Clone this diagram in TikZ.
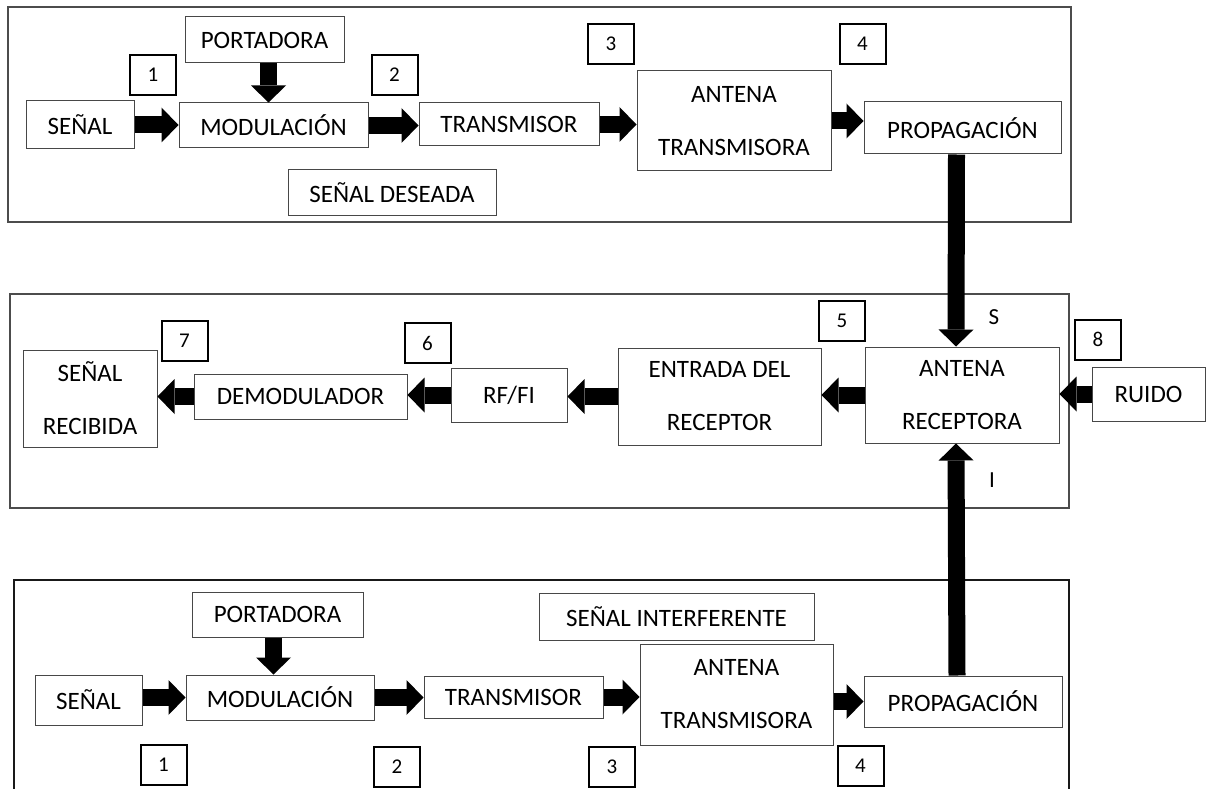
\documentclass[tikz,border=0pt]{standalone}
\usepackage{fontspec}
\setmainfont{Carlito}
\usetikzlibrary{arrows.meta}
\begin{document}
\begin{tikzpicture}[x=1pt,y=-1pt,
 box/.style={draw=black!72, line width=1pt, inner sep=0pt, font=\fontsize{25}{53}\selectfont, align=center},
 num/.style={draw=black, line width=2pt, inner sep=0pt, minimum width=46pt, minimum height=40pt, font=\fontsize{21}{25}\selectfont},
 frm/.style={draw=black!70, line width=1.3pt},
 frmb/.style={draw=black!90, line width=2.2pt},
 blk/.style={line width=17pt, -{Triangle[length=17pt 0 0, width=35pt 0 0, line width=0pt 0 0]}},
 lbl/.style={inner sep=0pt, font=\fontsize{23}{25}\selectfont}]
\clip (0,0) rectangle (1208,789);
\fill[white] (0,0) rectangle (1208,789);
% frames
\draw[frm] (8,7) rectangle (1071,222);
\draw[frm] (10,294) rectangle (1069,508);
\draw[frmb] (14,580) rectangle (1069,830);
% ---- top: desired signal
\node[box, minimum width=159pt, minimum height=46pt] (port1) at (264.5,40) {PORTADORA};
\node[num] (n1a) at (153,75) {1};
\node[box, minimum width=108pt, minimum height=48pt] (sen1) at (80,125) {SEÑAL};
\node[box, minimum width=189pt, minimum height=45pt] (mod1) at (273.5,125.5) {MODULACIÓN};
\node[num] (n2a) at (394.5,75) {2};
\node[box, minimum width=180pt, minimum height=43pt] (tx1) at (509,124.5) {TRANSMISOR};
\node[num] (n3a) at (611,44) {3};
\node[box, minimum width=194pt, minimum height=100pt] (ant1) at (734,121) {ANTENA\\TRANSMISORA};
\node[num] (n4a) at (862.5,44) {4};
\node[box, minimum width=197pt, minimum height=52pt] (prop1) at (962.5,128) {PROPAGACIÓN};
\node[box, minimum width=208pt, minimum height=45pt] (des) at (392,192.5) {SEÑAL DESEADA};
% ---- middle: receiver
\node[num] (n7) at (184.5,341) {7};
\node[box, minimum width=134pt, minimum height=97pt] (rec) at (90,398.5) {SEÑAL\\RECIBIDA};
\node[box, minimum width=213pt, minimum height=45pt] (dem) at (300.5,396.5) {DEMODULADOR};
\node[num] (n6) at (427.5,343) {6};
\node[box, minimum width=116pt, minimum height=54pt] (rffi) at (509,395) {RF/FI};
\node[num] (n5) at (842,321) {5};
\node[box, minimum width=203pt, minimum height=97pt] (ent) at (719.5,396.5) {ENTRADA DEL\\RECEPTOR};
\node[box, minimum width=194pt, minimum height=96pt] (antr) at (962,395) {ANTENA\\RECEPTORA};
\node[num] (n8) at (1098,339.5) {8};
\node[box, minimum width=113pt, minimum height=54pt] (ruido) at (1148.5,394) {RUIDO};
\node[lbl] (s) at (994,317) {S};
\node[lbl] (i) at (992,480) {I};
% ---- bottom: interfering signal
\node[box, minimum width=171pt, minimum height=45pt] (port2) at (277.5,614.5) {PORTADORA};
\node[box, minimum width=107pt, minimum height=50pt] (sen2) at (88.5,700) {SEÑAL};
\node[box, minimum width=188pt, minimum height=45pt] (mod2) at (280,697.5) {MODULACIÓN};
\node[box, minimum width=179pt, minimum height=42pt] (tx2) at (513.5,697) {TRANSMISOR};
\node[box, minimum width=275pt, minimum height=47pt] (intf) at (676.5,616.5) {SEÑAL INTERFERENTE};
\node[box, minimum width=193pt, minimum height=101pt] (ant2) at (736.5,694.5) {ANTENA\\TRANSMISORA};
\node[box, minimum width=198pt, minimum height=51pt] (prop2) at (963,701.5) {PROPAGACIÓN};
\node[num] (n1b) at (163.5,765) {1};
\node[num] (n2b) at (397,766.5) {2};
\node[num] (n3b) at (612,766.5) {3};
\node[num] (n4b) at (860.5,765.5) {4};
% ---- arrows top
\draw[blk] ([xshift=4pt]port1.south) -- ([xshift=4pt]port1.south |- mod1.north);
\draw[blk] (sen1.east) -- (sen1.east -| mod1.west);
\draw[blk] (mod1.east) -- (mod1.east -| tx1.west);
\draw[blk] (tx1.east) -- (tx1.east -| ant1.west);
\draw[blk] (ant1.east) -- (ant1.east -| prop1.west);
\draw[blk] ([xshift=-6pt]prop1.south) -- ([xshift=-6pt]antr.north);
% ---- arrows middle
\draw[blk] (antr.west) -- (antr.west -| ent.east);
\draw[blk] (ent.west) -- (ent.west -| rffi.east);
\draw[blk] (rffi.west) -- (rffi.west -| dem.east);
\draw[blk] (dem.west) -- (dem.west -| rec.east);
\draw[blk] (ruido.west) -- (ruido.west -| antr.east);
% ---- arrows bottom
\draw[blk] ([xshift=-4pt]port2.south) -- ([xshift=-4pt]port2.south |- mod2.north);
\draw[blk] (mod2.west -| sen2.east) -- (mod2.west);
\draw[blk] (mod2.east) -- (mod2.east -| tx2.west);
\draw[blk] (tx2.east) -- (tx2.east -| ant2.west);
\draw[blk] (prop2.west -| ant2.east) -- (prop2.west);
\draw[blk] ([xshift=-6pt]prop2.north) -- ([xshift=-6pt]antr.south);
\end{tikzpicture}
\end{document}
